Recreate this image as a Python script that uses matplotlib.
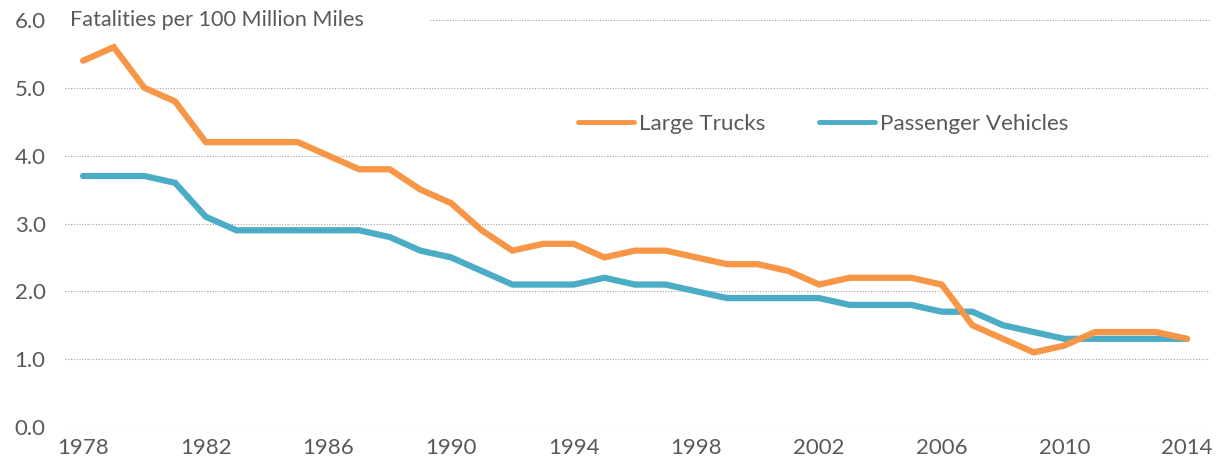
import matplotlib.pyplot as plt

plt.rcParams['font.family'] = ['Lato', 'DejaVu Sans']

years = list(range(1978, 2015))
large_trucks = [5.4, 5.6, 5.0, 4.8, 4.2, 4.2, 4.2, 4.2, 4.0, 3.8,
                3.8, 3.5, 3.3, 2.9, 2.6, 2.7, 2.7, 2.5, 2.6, 2.6,
                2.5, 2.4, 2.4, 2.3, 2.1, 2.2, 2.2, 2.2, 2.1, 1.5,
                1.3, 1.1, 1.2, 1.4, 1.4, 1.4, 1.3]
passenger = [3.7, 3.7, 3.7, 3.6, 3.1, 2.9, 2.9, 2.9, 2.9, 2.9,
             2.8, 2.6, 2.5, 2.3, 2.1, 2.1, 2.1, 2.2, 2.1, 2.1,
             2.0, 1.9, 1.9, 1.9, 1.9, 1.8, 1.8, 1.8, 1.7, 1.7,
             1.5, 1.4, 1.3, 1.3, 1.3, 1.3, 1.3]
xticks = list(range(1978, 2015, 4))
yticks = [0, 1, 2, 3, 4, 5, 6]

orange = '#F79646'
blue = '#4BACC6'
txt = '#595959'

fig = plt.figure(figsize=(12.19, 4.63), dpi=100)
ax = fig.add_axes([65 / 1219, 36 / 463, 1145 / 1219, 407 / 463])

# dotted gridlines; the top one leaves room for the unit label
for y in yticks:
    xmin = 0.319 if y == yticks[-1] else 0
    ax.axhline(y, xmin=xmin, color='#A6A6A6', lw=0.8, ls=(0, (1, 1.5)), zorder=1)

ax.plot(years, large_trucks, color=orange, lw=4.5, label='Large Trucks',
        solid_capstyle='round', solid_joinstyle='miter', zorder=3, clip_on=False)
ax.plot(years, passenger, color=blue, lw=4.5, label='Passenger Vehicles',
        solid_capstyle='round', solid_joinstyle='miter', zorder=2, clip_on=False)

ax.set_xlim(1977.41, 2014.75)
ax.set_ylim(0, 6)
ax.set_xticks(xticks)
ax.set_yticks(yticks)
ax.set_yticklabels([f'{v:.1f}' for v in yticks])
ax.tick_params(length=0, labelsize=16, colors=txt)
ax.tick_params(axis='y', pad=14)
ax.tick_params(axis='x', pad=8)
for s in ax.spines.values():
    s.set_visible(False)

ax.text(1977.56, 6.0, 'Fatalities per 100 Million Miles', fontsize=15.6, color=txt,
        va='center', ha='left', zorder=4)

leg = ax.legend(loc='center left', bbox_to_anchor=(0.44, 0.745), ncol=2,
                frameon=False, fontsize=16.2, handlelength=2.5,
                handletextpad=0.2, columnspacing=2.4, borderaxespad=0)
for t in leg.get_texts():
    t.set_color(txt)
for h in leg.get_lines():
    h.set_linewidth(3.5)

fig.savefig('out.png', dpi=100)
